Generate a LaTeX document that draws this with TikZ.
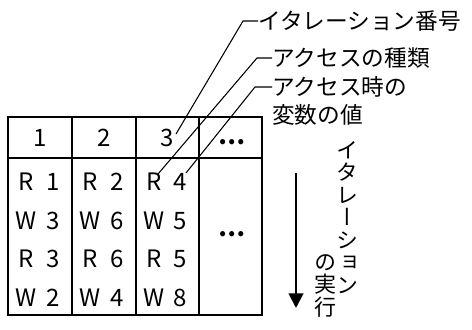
\documentclass[tikz,border=0pt]{standalone}
\usepackage{fontspec}
\setmainfont{Noto Sans CJK JP}
\newfontfamily\vfont[RawFeature=+vert]{Noto Sans CJK JP}
\newfontfamily\dotfont{Noto Sans CJK JP}[BoldFont=* Bold]
\usetikzlibrary{arrows.meta,calc}
\begin{document}
\begin{tikzpicture}[x=0.75pt,y=-0.75pt,
  tbl/.style={line width=1.5pt},
  leader/.style={line width=0.8pt},
  lbl/.style={anchor=west,inner sep=0,font=\fontsize{17pt}{20pt}\selectfont,text height=15pt,text depth=2pt},
  cell/.style={inner sep=0,font=\fontsize{18pt}{20pt}\selectfont,text height=15.8pt,text depth=2.2pt},
  dots/.style={inner sep=0,font=\fontsize{18pt}{20pt}\selectfont\bfseries,text height=15.8pt,text depth=2.2pt},
  vchar/.style={inner sep=0,font=\vfont\fontsize{16.5pt}{18pt}\selectfont,text height=14.5pt,text depth=2pt}]
\useasboundingbox (0,0) rectangle (472,329);
% table
\draw[tbl] (8,117) rectangle (262,315);
\draw[tbl] (8,158) -- (262,158);
\foreach \x in {72,136,199} \draw[tbl] (\x,117) -- (\x,315);
% header
\node[cell] (h1) at (40,137) {1};
\node[cell] (h2) at (104,137) {2};
\node[cell] (h3) at (167.5,137) {3};
\node[dots] (h4) at (232,135) {…};
% body
\foreach \col/\cx in {1/40,2/104,3/167.5}{
  \foreach \row/\cy in {1/181,2/220,3/258,4/297}{
    \coordinate (c\col\row) at (\cx,\cy);
  }
}
\foreach \col/\list in {1/{R/1,W/3,R/3,W/2},2/{R/2,W/6,R/6,W/4},3/{R/4,W/5,R/5,W/8}}{
  \foreach \L/\D [count=\row] in \list {
    \node[cell] (l\col\row) at ($(c\col\row)+(-13.5,0)$) {\L};
    \node[cell] (d\col\row) at ($(c\col\row)+(13,0)$) {\D};
  }
}
\node[dots] (b4) at (232,227) {…};
% labels
\node[lbl] (t1) at (258,21) {イタレーション番号};
\node[lbl] (t2) at (272,58) {アクセスの種類};
\node[lbl] (t3) at (272,87) {アクセス時の};
\node[lbl] (t4) at (272,115) {変数の値};
\coordinate (e1) at (176,134);
\coordinate (e2) at (158,174);
\coordinate (e3) at (186,173);
\coordinate (k1) at (243,21);
\coordinate (k2) at (257,58);
\coordinate (k3) at (255,87);
\draw[leader] (e1) -- (k1) -- (t1.west);
\draw[leader] (e2) -- (k2) -- (t2.west);
\draw[leader] (e3) -- (k3) -- (t3.west);
% arrow
\coordinate (a1) at (296,173);
\coordinate (a2) at (296,308);
\draw[line width=1.5pt,-{Triangle[width=11pt,length=11pt]}] (a1) -- (a2);
% vertical text
\foreach \c [count=\i] in {イ,タ,レ,ー,シ,ョ,ン}
  \node[vchar] (v\i) at (347,{150+(\i-1)*22.5}) {\c};
\foreach \c [count=\i] in {の,実,行}
  \node[vchar] (w\i) at (325,{262+(\i-1)*22.5}) {\c};
\end{tikzpicture}
\end{document}
